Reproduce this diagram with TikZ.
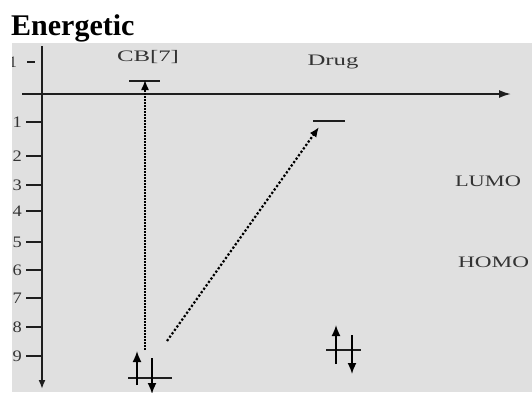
\documentclass[tikz,border=0pt]{standalone}
\usepackage{fontspec}
\setmainfont{Liberation Serif}
\usepackage{xcolor}
\definecolor{PanelGray}{HTML}{E0E0E0}
\definecolor{InkGray}{HTML}{1E1E1E}
\definecolor{LabelGray}{HTML}{333333}
\usetikzlibrary{arrows.meta}
\newcommand{\widetext}[2]{\scalebox{#1}[1]{#2}}

\begin{document}
\begin{tikzpicture}[x=1pt, y=-1pt, >=Latex,
  axis/.style={draw=InkGray, line width=1.8pt},
  tick/.style={draw=InkGray, line width=1.4pt},
  level/.style={draw=InkGray, line width=1.6pt},
  trans/.style={draw=black, line width=1.6pt, dash pattern=on 2pt off 1.6pt, -{Latex[length=10pt,width=8pt]}},
  spin/.style={draw=black, line width=1.7pt, -{Latex[length=11pt,width=9pt]}},
  lbl/.style={text=LabelGray, inner sep=0pt, font=\fontsize{16}{16}\selectfont},
  ticklbl/.style={text=LabelGray, inner sep=0pt, anchor=east, font=\fontsize{16}{16}\selectfont}]
  \useasboundingbox (0,0) rectangle (532,392);
  \node[anchor=base west, inner sep=0pt, font=\fontsize{30}{30}\selectfont\bfseries] (title) at (11,35) {Energetic};
  \fill[PanelGray] (12,43) rectangle (532,392);
  \begin{scope}
    \clip (12,43) rectangle (532,392);
    % axes
    \coordinate (ytop) at (42,46);
    \coordinate (ybot) at (42,389);
    \coordinate (xleft) at (22,94);
    \coordinate (xright) at (511,94);
    \draw[axis,-{Latex[length=9pt,width=7pt]}] (ytop) -- (ybot);
    \draw[axis,-{Latex[length=12pt,width=8pt]}] (xleft) -- (xright);
    \draw[tick] (27,62) -- (35,62);
    \node[ticklbl] (tick-top) at (17,62) {1};
    \foreach \y/\t in {122/1,156/2,185/3,211/4,242/5,270/6,298/7,327/8,356/9} {
      \draw[tick] (26,\y) -- (42,\y);
      \node[ticklbl] (tick-\y) at (22,\y) {\widetext{1.15}{\t}};
    }
    % labels
    \node[lbl] (cb) at (148,57) {\widetext{1.55}{CB[7]}};
    \node[lbl] (drug) at (333,62) {\widetext{1.55}{Drug}};
    \node[lbl] (lumo) at (488,181) {\widetext{1.4}{LUMO}};
    \node[lbl, anchor=west] (homo) at (458,262) {\widetext{1.45}{HOMO}};
    % CB[7] levels
    \coordinate (cbL) at (145,81);
    \coordinate (cbH) at (150,378);
    \draw[level] ([xshift=-16pt]cbL) -- ([xshift=15pt]cbL);
    \draw[level] ([xshift=-22pt]cbH) -- ([xshift=22pt]cbH);
    \coordinate (cbfrom) at (145,350);
    \draw[trans, line width=1.4pt, dash pattern=on 1.6pt off 1.4pt] (cbfrom) -- ([yshift=1pt]cbL);
    \coordinate (cbup0) at (137,385);
    \coordinate (cbup1) at (137,351);
    \coordinate (cbdn0) at (152,358);
    \coordinate (cbdn1) at (152,394);
    \draw[spin] (cbup0) -- (cbup1);
    \draw[spin] (cbdn0) -- (cbdn1);
    % drug levels
    \coordinate (drL) at (329,121);
    \coordinate (drH) at (343,350);
    \draw[level] ([xshift=-16pt]drL) -- ([xshift=16pt]drL);
    \draw[level] ([xshift=-17pt]drH) -- ([xshift=18pt]drH);
    \coordinate (drfrom) at (167,341);
    \coordinate (drto) at (319,127);
    \draw[trans, line width=2.2pt, dash pattern=on 2.2pt off 2pt] (drfrom) -- (drto);
    \coordinate (drup0) at (336,364);
    \coordinate (drup1) at (336,325);
    \coordinate (drdn0) at (352,335);
    \coordinate (drdn1) at (352,374);
    \draw[spin] (drup0) -- (drup1);
    \draw[spin] (drdn0) -- (drdn1);
  \end{scope}
\end{tikzpicture}
\end{document}
